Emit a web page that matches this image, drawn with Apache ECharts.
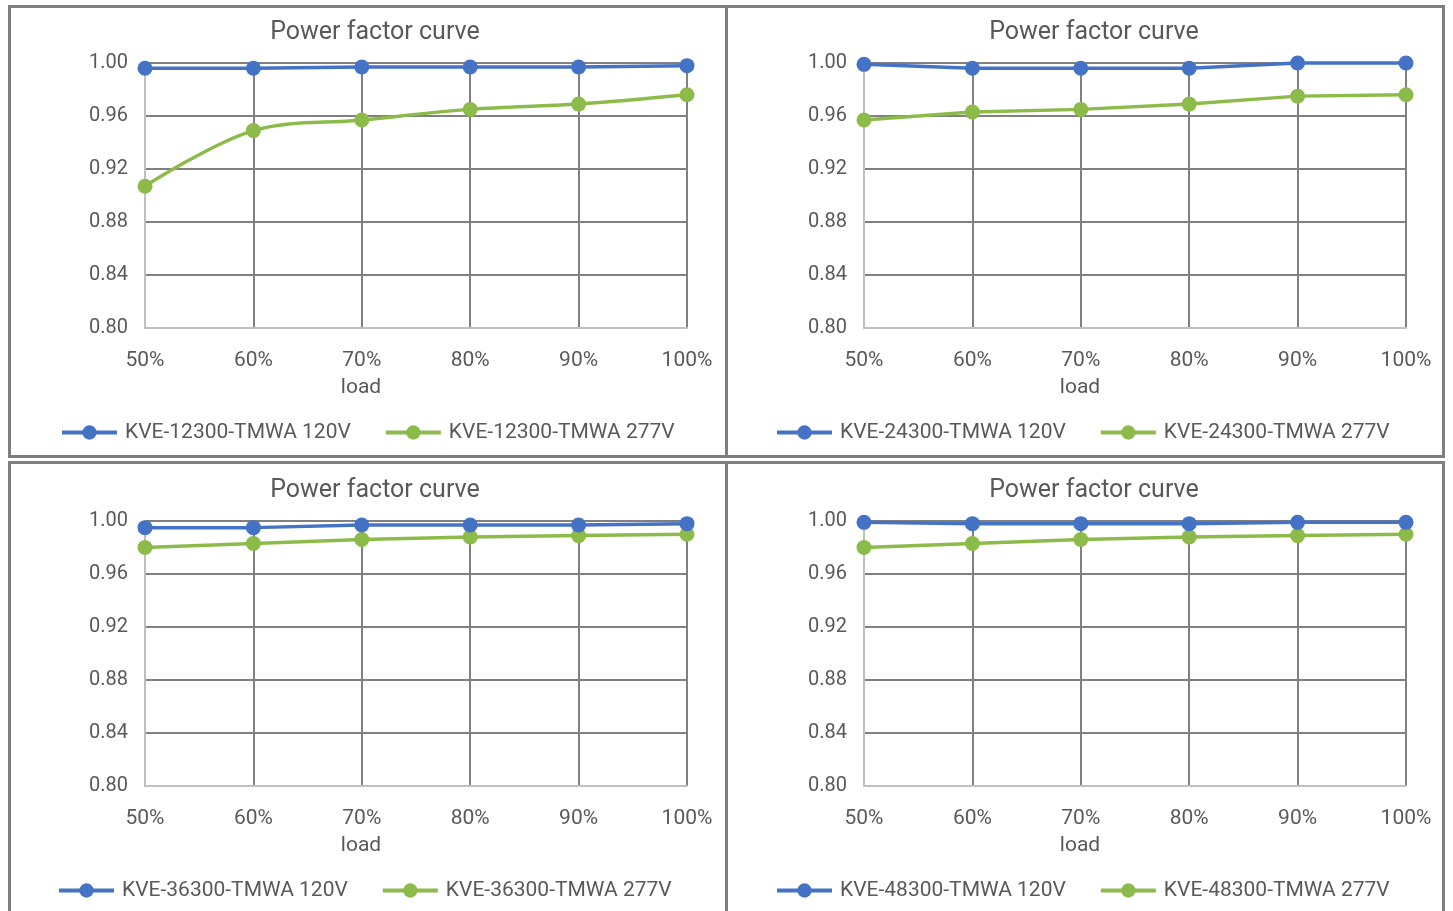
<!DOCTYPE html>
<html>
<head>
<meta charset="utf-8">
<script src="https://cdn.jsdelivr.net/npm/echarts@6/dist/echarts.min.js"></script>
<style>
  html, body { margin: 0; padding: 0; background: #fff; }
  #chart { width: 1453px; height: 911px; }
</style>
</head>
<body>
<div id="chart"></div>
<script>
// Load steps on the x axis
const loads = ['50%', '60%', '70%', '80%', '90%', '100%'];

// Driver models, one panel each
const models = ['KVE-12300-TMWA', 'KVE-24300-TMWA', 'KVE-36300-TMWA', 'KVE-48300-TMWA'];

// Power factor readings per model and input voltage
const pf12300v120 = [0.996, 0.996, 0.997, 0.997, 0.997, 0.998];
const pf12300v277 = [0.907, 0.949, 0.957, 0.965, 0.969, 0.976];
const pf24300v120 = [0.999, 0.996, 0.996, 0.996, 1.000, 1.000];
const pf24300v277 = [0.957, 0.963, 0.965, 0.969, 0.975, 0.976];
const pf36300v120 = [0.995, 0.995, 0.997, 0.997, 0.997, 0.998];
const pf36300v277 = [0.980, 0.983, 0.986, 0.988, 0.989, 0.990];
const pf48300v120 = [0.999, 0.998, 0.998, 0.998, 0.999, 0.999];
const pf48300v277 = [0.980, 0.983, 0.986, 0.988, 0.989, 0.990];

const values120 = [pf12300v120, pf24300v120, pf36300v120, pf48300v120];
const values277 = [pf12300v277, pf24300v277, pf36300v277, pf48300v277];

const FONT = 'Roboto';
const TEXT = '#595959';
const BLUE = '#4472c4';
const GREEN = '#8cbb4a';
const GRID_DARK = '#808080';
const GRID_LIGHT = '#c0c0c0';
const FRAME = '#7f7f7f';

// Panel geometry: plot origin, title center, legend start
const panels = [
  { left: 145, top: 63,  cx: 370,  legendLeft: 55 },
  { left: 864, top: 63,  cx: 1089, legendLeft: 770 },
  { left: 145, top: 521, cx: 370,  legendLeft: 52 },
  { left: 864, top: 521, cx: 1089, legendLeft: 770 }
];
const plotW = 542, plotH = 265;

const title = [], grid = [], xAxis = [], yAxis = [], legend = [], series = [];

panels.forEach((p, i) => {
  title.push({
    text: 'Power factor curve',
    left: p.cx, top: p.top - 48, textAlign: 'center',
    textStyle: { fontFamily: FONT, fontSize: 25, fontWeight: 'normal', color: TEXT }
  });
  grid.push({ left: p.left, top: p.top, width: plotW, height: plotH, containLabel: false });
  xAxis.push({
    type: 'category', gridIndex: i, data: loads, boundaryGap: false,
    name: 'load', nameLocation: 'middle', nameGap: 49,
    // axis title sits under the 70% label
    nameTextStyle: { fontFamily: FONT, fontSize: 21, color: TEXT, padding: [0, 110, 0, 0] },
    axisLine: { lineStyle: { color: GRID_LIGHT, width: 2 } },
    axisTick: { show: false },
    axisLabel: { fontFamily: FONT, fontSize: 21, color: TEXT, margin: 22 },
    splitLine: { show: true, lineStyle: { color: GRID_DARK, width: 2 } }
  });
  yAxis.push({
    type: 'value', gridIndex: i, min: 0.8, max: 1.0, interval: 0.04,
    axisLine: { show: true, lineStyle: { color: GRID_LIGHT, width: 2 } },
    axisTick: { show: false },
    axisLabel: { fontFamily: FONT, fontSize: 20, color: TEXT, margin: 17,
      padding: [3, 0, 0, 0], formatter: v => v.toFixed(2) },
    splitLine: { show: true, lineStyle: { color: GRID_DARK, width: 2 } }
  });
  const n120 = models[i] + ' 120V';
  const n277 = models[i] + ' 277V';
  legend.push({
    data: [n120, n277],
    left: p.legendLeft, top: p.top + 354,
    itemWidth: 55, itemHeight: 18, itemGap: 33,
    lineStyle: { width: 4 },
    textStyle: { fontFamily: FONT, fontSize: 21, color: TEXT, padding: [0, 0, 0, 3] }
  });
  series.push({
    name: n120, type: 'line', xAxisIndex: i, yAxisIndex: i,
    data: values120[i], symbol: 'circle', symbolSize: 15,
    itemStyle: { color: BLUE }, lineStyle: { color: BLUE, width: 3.5 },
    clip: false, z: 3
  });
  series.push({
    name: n277, type: 'line', xAxisIndex: i, yAxisIndex: i,
    data: values277[i], symbol: 'circle', symbolSize: 15,
    smooth: i === 0 ? 0.35 : false,
    itemStyle: { color: GREEN }, lineStyle: { color: GREEN, width: 3.5 },
    clip: false, z: 2
  });
});

// Panel frames
const frames = [
  { x: 9.5, y: 6.5, width: 717, height: 450 },
  { x: 726.5, y: 6.5, width: 717, height: 450 },
  { x: 9.5, y: 462.5, width: 717, height: 470 },
  { x: 726.5, y: 462.5, width: 717, height: 470 }
].map(s => ({
  type: 'rect', shape: s, silent: true, z: 0,
  style: { fill: null, stroke: FRAME, lineWidth: 3 }
}));

const chart = echarts.init(document.getElementById('chart'), null, { renderer: 'canvas' });
chart.setOption({
  backgroundColor: '#ffffff',
  animation: false,
  title, grid, xAxis, yAxis, legend, series,
  graphic: frames
});
</script>
</body>
</html>
